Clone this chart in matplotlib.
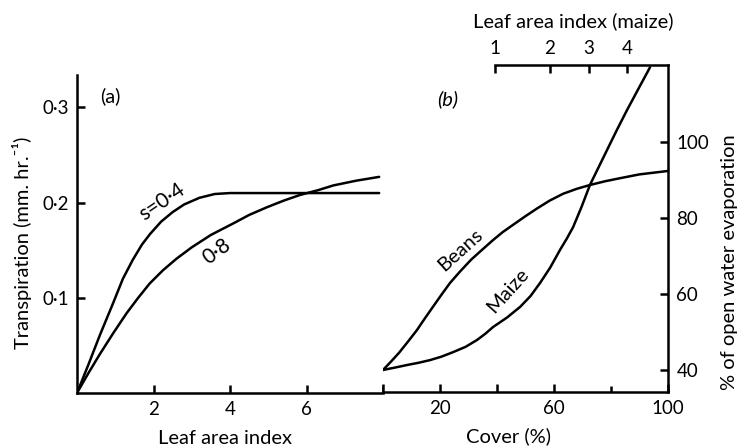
import matplotlib
matplotlib.use("Agg")
import matplotlib.pyplot as plt

plt.rcParams['font.family'] = ['Lato', 'DejaVu Sans']

# panel (a): transpiration vs leaf area index
lai_s04 = [0, 0.3, 0.6, 0.94, 1.2, 1.46, 1.7, 1.91, 2.2, 2.5, 2.8, 3.2, 3.6, 4.0, 5.0, 6.0, 7.9]
tr_s04 = [0, 0.030, 0.061, 0.094, 0.120, 0.140, 0.156, 0.167, 0.180, 0.190, 0.198,
          0.205, 0.209, 0.210, 0.210, 0.210, 0.210]
lai_s08 = [0, 0.3, 0.6, 0.95, 1.3, 1.6, 1.9, 2.25, 2.6, 3.0, 3.5, 4.08, 4.5, 4.96,
           5.4, 5.83, 6.3, 6.7, 7.3, 7.9]
tr_s08 = [0, 0.021, 0.041, 0.063, 0.084, 0.100, 0.115, 0.129, 0.141, 0.153, 0.166,
          0.178, 0.187, 0.195, 0.202, 0.208, 0.213, 0.218, 0.223, 0.227]

# panel (b): % of open water evaporation vs cover
cover_beans = [0, 2.8, 5.6, 8.8, 11.9, 14.7, 17.5, 20.5, 23.5, 27, 31, 35, 38.6, 42,
               45.6, 50, 54, 58.5, 63.2, 68, 72.6, 78, 83.2, 90, 100]
evap_beans = [40, 42.2, 44.5, 47.5, 50.5, 53.6, 56.6, 59.8, 62.9, 65.9, 69.1, 71.8,
              74.2, 76.3, 78.2, 80.5, 82.5, 84.6, 86.4, 87.7, 88.7, 89.7, 90.5, 91.5, 92.4]
cover_maize = [0, 4, 8.4, 12.5, 16.5, 20.5, 24.6, 29, 33, 36, 38.6, 43.5, 48.1, 51.8,
               55.1, 58.7, 62.1, 64.5, 66.7, 69.7, 72.6, 75.6, 78.6, 82, 85.6, 89.6, 93.7]
evap_maize = [40, 40.6, 41.3, 41.9, 42.6, 43.5, 44.7, 46.1, 47.9, 49.6, 51.3, 53.8,
              56.6, 59.5, 62.9, 67.0, 71.6, 74.6, 77.6, 83.0, 88.7, 93.3, 97.9, 103.1,
              108.4, 114.0, 119.7]

# top scale: maize leaf area index placed at cover positions
maize_lai_labels = ['1', '2', '3', '4']
maize_lai_cover = [39.3, 58.6, 72.3, 85.6]

W, H = 741, 448
fig = plt.figure(figsize=(W / 100, H / 100), dpi=100)

lw = 1.8
fs_tick = 13.5
fs_lab = 14.5
tick_kw = dict(direction='in', length=6, width=lw, labelsize=fs_tick, pad=6)
line_kw = dict(color='black', lw=lw, solid_joinstyle='round', solid_capstyle='round')


def px(x, y):
    return x / W, 1 - y / H


# ---- panel (a)
ax = fig.add_axes([77 / W, (H - 393) / H, (383 - 77) / W, (393 - 75) / H])
ax.plot(lai_s04, tr_s04, **line_kw)
ax.plot(lai_s08, tr_s08, **line_kw)
ax.set_xlim(0, 8)
ax.set_ylim(0, 0.334)
for s in ['top', 'right']:
    ax.spines[s].set_visible(False)
for s in ['left', 'bottom']:
    ax.spines[s].set_linewidth(lw)
ax.set_xticks([2, 4, 6, 8])
ax.set_xticklabels(['2', '4', '6', ''])
ax.set_yticks([0.1, 0.2, 0.3])
ax.set_yticklabels(['0·1', '0·2', '0·3'])
ax.tick_params(**tick_kw)
ax.text(0.86, 0.312, '(a)', fontsize=fs_lab, ha='center', va='center')
ax.text(2.38, 0.192, 's=0·4', fontsize=15, ha='center', va='bottom',
        rotation=34, rotation_mode='anchor')
ax.text(3.5, 0.157, '0·8', fontsize=15, ha='center', va='top',
        rotation=36, rotation_mode='anchor')

# ---- panel (b)
bx = fig.add_axes([383 / W, (H - 392) / H, (668 - 383) / W, (392 - 65) / H])
bx.plot(cover_beans, evap_beans, **line_kw)
bx.plot(cover_maize, evap_maize, **line_kw)
bx.set_xlim(0, 100)
bx.set_ylim(34.2, 120.3)
bx.spines['left'].set_visible(False)
bx.spines['top'].set_visible(False)
for s in ['bottom', 'right']:
    bx.spines[s].set_linewidth(lw)
bx.yaxis.tick_right()
bx.set_xticks([0, 20, 40, 60, 100])
bx.set_xticklabels(['', '20', '', '60', '100'])
bx.set_xticks([80], minor=True)
bx.set_yticks([40, 60, 80, 100])
bx.tick_params(**tick_kw)
bx.tick_params(axis='x', which='minor', direction='in', length=4, width=lw)
bx.text(22.8, 111.3, '(b)', fontsize=fs_lab, ha='center', va='center', style='italic')
bx.text(29.0, 70.0, 'Beans', fontsize=fs_lab, ha='center', va='bottom',
        rotation=42, rotation_mode='anchor')
bx.text(46.0, 59.3, 'Maize', fontsize=fs_lab, ha='center', va='bottom',
        rotation=48, rotation_mode='anchor')

tx = bx.twiny()
tx.set_xlim(0, 100)
for s in ['left', 'right', 'bottom']:
    tx.spines[s].set_visible(False)
tx.spines['top'].set_linewidth(lw)
tx.spines['top'].set_bounds(maize_lai_cover[0], 100)
tx.set_xticks(maize_lai_cover)
tx.set_xticklabels(maize_lai_labels)
tx.tick_params(**tick_kw)

# axis titles
fig.text(*px(225, 438), 'Leaf area index', fontsize=fs_lab, ha='center', va='center')
fig.text(*px(22, 243), 'Transpiration (mm. hr.⁻¹)', fontsize=fs_lab,
         ha='center', va='center', rotation=90)
fig.text(*px(508, 436), 'Cover (%)', fontsize=fs_lab, ha='center', va='center')
fig.text(*px(573, 21), 'Leaf area index (maize)', fontsize=fs_lab, ha='center', va='center')
fig.text(*px(729, 262), '% of open water evaporation', fontsize=fs_lab,
         ha='center', va='center', rotation=90)

fig.savefig('out.png', dpi=100)
